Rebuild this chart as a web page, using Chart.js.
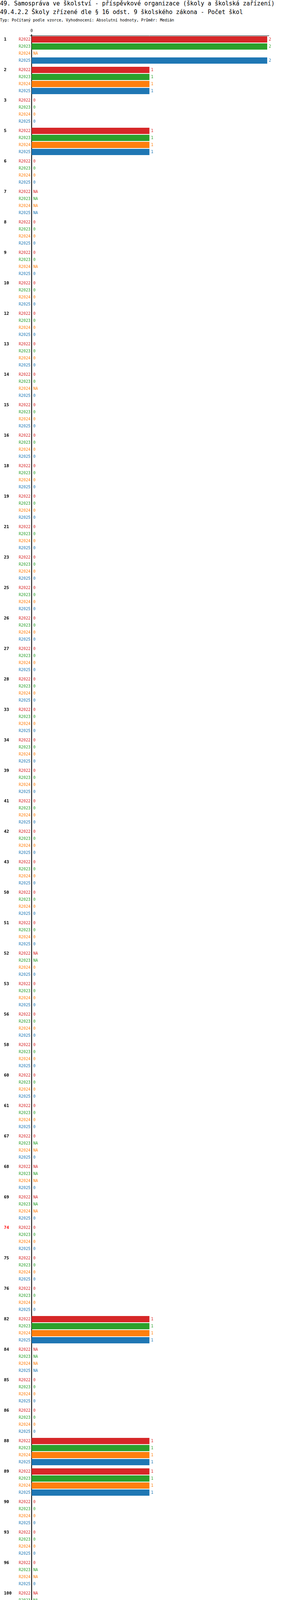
<!DOCTYPE html>
<html>
<head>
<meta charset="utf-8">
<script src="https://cdn.jsdelivr.net/npm/chart.js@4/dist/chart.umd.min.js"></script>
<style>
  html, body { margin: 0; padding: 0; }
  body { width: 750px; height: 7028px; overflow: hidden; background: #fff; font-family: "DejaVu Sans Mono", monospace; position: relative; }
  .t { position: absolute; left: 0; white-space: nowrap; color: #000; font-family: "DejaVu Sans Mono", monospace; }
  .t1 { top: 0px; font-size: 14.8px; line-height: 18px; }
  .t2 { top: 22px; font-size: 14.8px; line-height: 18px; }
  .t3 { top: 46px; font-size: 10px; line-height: 12px; }
  #wrap { position: absolute; left: 0; top: 60px; width: 750px; height: 6830px; }
  .lg { position: absolute; font-size: 10px; line-height: 12px; white-space: nowrap; font-family: "DejaVu Sans Mono", monospace; }
</style>
</head>
<body>
<span id="title1" class="t t1">49. Samospráva ve školství - příspěvkové organizace (školy a školská zařízení)</span>
<span id="title2" class="t t2">49.4.2.2 Školy zřízené dle § 16 odst. 9 školského zákona - Počet škol</span>
<span id="title3" class="t t3">Typ: Počítaný podle vzorce, Vyhodnocení: Absolutní hodnoty, Průměr: Medián</span>
<div id="wrap"><canvas id="myChart"></canvas></div>
<div id="legend"></div>
<script>
// kategorie (kody)
var categories = ['1','2','3','5','6','7','8','9','10','12',
  '13','14','15','16','18','19','21','23','25','26',
  '27','28','33','34','39','41','42','43','50','51',
  '52','53','56','58','60','61','67','68','69','74',
  '75','76','82','84','85','86','88','89','90','93',
  '96','100','101','102','106','111','112','113','114','115',
  '118','121','122','125','126','129','130','131','132','134',
  '135','136','138','139','140','141','144','145','146','147',
  '151','152','153','154','155','1000','9999'];
var highlighted = ['74'];

var seriesNames = ['R2022', 'R2023', 'R2024', 'R2025'];
var seriesTitles = ['Realita - 2022', 'Realita - 2023', 'Realita - 2024', 'Realita - 2025'];
var seriesColors = ['#d62728', '#2ca02c', '#ff7f0e', '#1f77b4'];

var r2022 = [2,1,0,1,0,null,0,0,0,0,
  0,0,0,0,0,0,0,0,0,0,
  0,0,0,0,0,0,0,0,0,0,
  null,0,0,0,0,0,0,null,null,0,
  0,0,1,null,0,0,1,1,0,0,
  0,null,0,0,0,1,1,0,0,0,
  0,0,0,0,1,null,1,0,0,0,
  0,0,0,1,0,0,0,0,0,1,
  null,null,null,null,null,null,null];
var r2023 = [2,1,0,1,0,null,0,0,0,0,
  0,0,0,0,0,0,0,0,0,0,
  0,0,0,0,0,0,0,0,0,0,
  null,0,0,0,0,0,null,null,null,0,
  0,0,1,null,0,0,1,1,0,0,
  null,null,0,0,0,1,1,0,0,0,
  0,0,0,0,1,0,1,0,0,0,
  0,0,0,1,0,0,0,0,0,1,
  0,0,null,null,null,null,null];
var r2024 = [null,1,0,1,0,null,0,null,0,0,
  0,null,0,0,0,0,0,0,0,0,
  0,0,0,0,0,0,0,0,0,0,
  0,0,0,0,0,0,null,null,null,0,
  0,0,1,null,0,0,1,1,0,0,
  null,0,0,0,0,1,1,0,0,0,
  0,0,0,0,1,0,null,0,0,0,
  0,0,0,1,0,0,0,0,0,1,
  0,0,1,null,null,null,null];
var r2025 = [2,1,0,1,0,null,0,0,0,0,
  0,0,0,0,0,0,0,0,0,0,
  0,0,0,0,0,0,0,0,0,0,
  0,0,0,0,0,0,0,0,0,0,
  0,0,1,null,0,0,1,1,0,0,
  0,0,0,0,0,1,1,0,0,0,
  0,0,0,0,1,0,1,0,0,0,
  0,0,0,1,0,0,0,0,0,1,
  0,0,2,0,0,null,null];

var xTicks = [0];
var statMedian = [0, 0, 0, 0];
var statMin = [0, 0, 0, 0];
var statMax = [2, 2, 1, 2];

var allSeries = [r2022, r2023, r2024, r2025];

// nadpisy - srovnat sirku podle predlohy
function fitWidth(id, target) {
    var el = document.getElementById(id);
    var w = el.getBoundingClientRect().width;
    if (w > 0) {
        var fs = parseFloat(getComputedStyle(el).fontSize);
        el.style.fontSize = (fs * target / w) + 'px';
    }
}
fitWidth('title1', 703);
fitWidth('title2', 622);
fitWidth('title3', 446);

// popisky radku + hodnoty
const rowLabels = {
    id: 'rowLabels',
    afterDatasetsDraw(chart) {
        const ctx = chart.ctx;
        const xs = chart.scales.x;
        const area = chart.chartArea;
        ctx.save();
        // horni osa
        ctx.strokeStyle = '#000';
        ctx.lineWidth = 1;
        ctx.beginPath();
        ctx.moveTo(area.left - 5, area.top + 2.5);
        ctx.lineTo(area.right + 5, area.top + 2.5);
        ctx.stroke();
        ctx.textBaseline = 'middle';
        chart.data.datasets.forEach((ds, d) => {
            const meta = chart.getDatasetMeta(d);
            meta.data.forEach((bar, i) => {
                let y = bar.y;
                if (d === 0) {
                    ctx.font = 'bold 11px "DejaVu Sans Mono"';
                    ctx.textAlign = 'left';
                    ctx.fillStyle = highlighted.indexOf(categories[i]) >= 0 ? '#ff0000' : '#000';
                    ctx.fillText(categories[i], 10, y);
                }
                ctx.font = '10px "DejaVu Sans Mono"';
                ctx.fillStyle = seriesColors[d];
                ctx.textAlign = 'right';
                ctx.fillText(seriesNames[d], xs.left - 3, y);
                ctx.textAlign = 'left';
                let v = ds.data[i];
                let txt = v === null ? 'NA' : String(v);
                let x = v === null ? xs.left : xs.getPixelForValue(v);
                ctx.fillText(txt, x + 4, y);
            });
        });
        ctx.restore();
    }
};

const ctx = document.getElementById('myChart');
new Chart(ctx, {
    type: 'bar',
    data: {
        labels: categories,
        datasets: allSeries.map((s, d) => ({
            label: seriesNames[d],
            data: s,
            backgroundColor: seriesColors[d],
            borderWidth: 0,
            categoryPercentage: 72 / 78,
            barPercentage: 16 / 18
        }))
    },
    options: {
        indexAxis: 'y',
        responsive: true,
        maintainAspectRatio: false,
        animation: false,
        layout: { padding: { left: 0, right: 66, top: 0, bottom: 15 } },
        plugins: { legend: { display: false }, tooltip: { enabled: false } },
        scales: {
            x: {
                position: 'top',
                min: 0,
                max: 2,
                afterBuildTicks: s => { s.ticks = xTicks.map(v => ({ value: v })); },
                afterFit: s => { s.height = 29; },
                grid: { display: false, drawTicks: false },
                border: { display: false },
                ticks: { color: '#000', padding: 4, font: { family: 'DejaVu Sans Mono', size: 10 } }
            },
            y: {
                afterFit: s => { s.width = 81; },
                grid: { display: false, drawTicks: false },
                border: { display: true, color: '#000', width: 2 },
                ticks: { display: false }
            }
        }
    },
    plugins: [rowLabels]
});

// legenda a statistiky
let lg = document.getElementById('legend');
let html = '';
seriesNames.forEach((n, d) => {
    let left = d % 2 === 0 ? 80 : 381;
    let top = 6894 + Math.floor(d / 2) * 20;
    html += `<div class="lg" style="left:${left}px;top:${top}px;color:${seriesColors[d]}">Období[${n}]: ${seriesTitles[d]}</div>`;
});
seriesNames.forEach((n, d) => {
    let top = 6944 + d * 20;
    html += `<div class="lg" style="left:80px;top:${top}px;color:${seriesColors[d]}">Medián: ${statMedian[d]}</div>`;
    html += `<div class="lg" style="left:331px;top:${top}px;color:${seriesColors[d]}">Min: ${statMin[d]}</div>`;
    html += `<div class="lg" style="left:532px;top:${top}px;color:${seriesColors[d]}">Max: ${statMax[d]}</div>`;
});
lg.innerHTML = html;
</script>
</body>
</html>
